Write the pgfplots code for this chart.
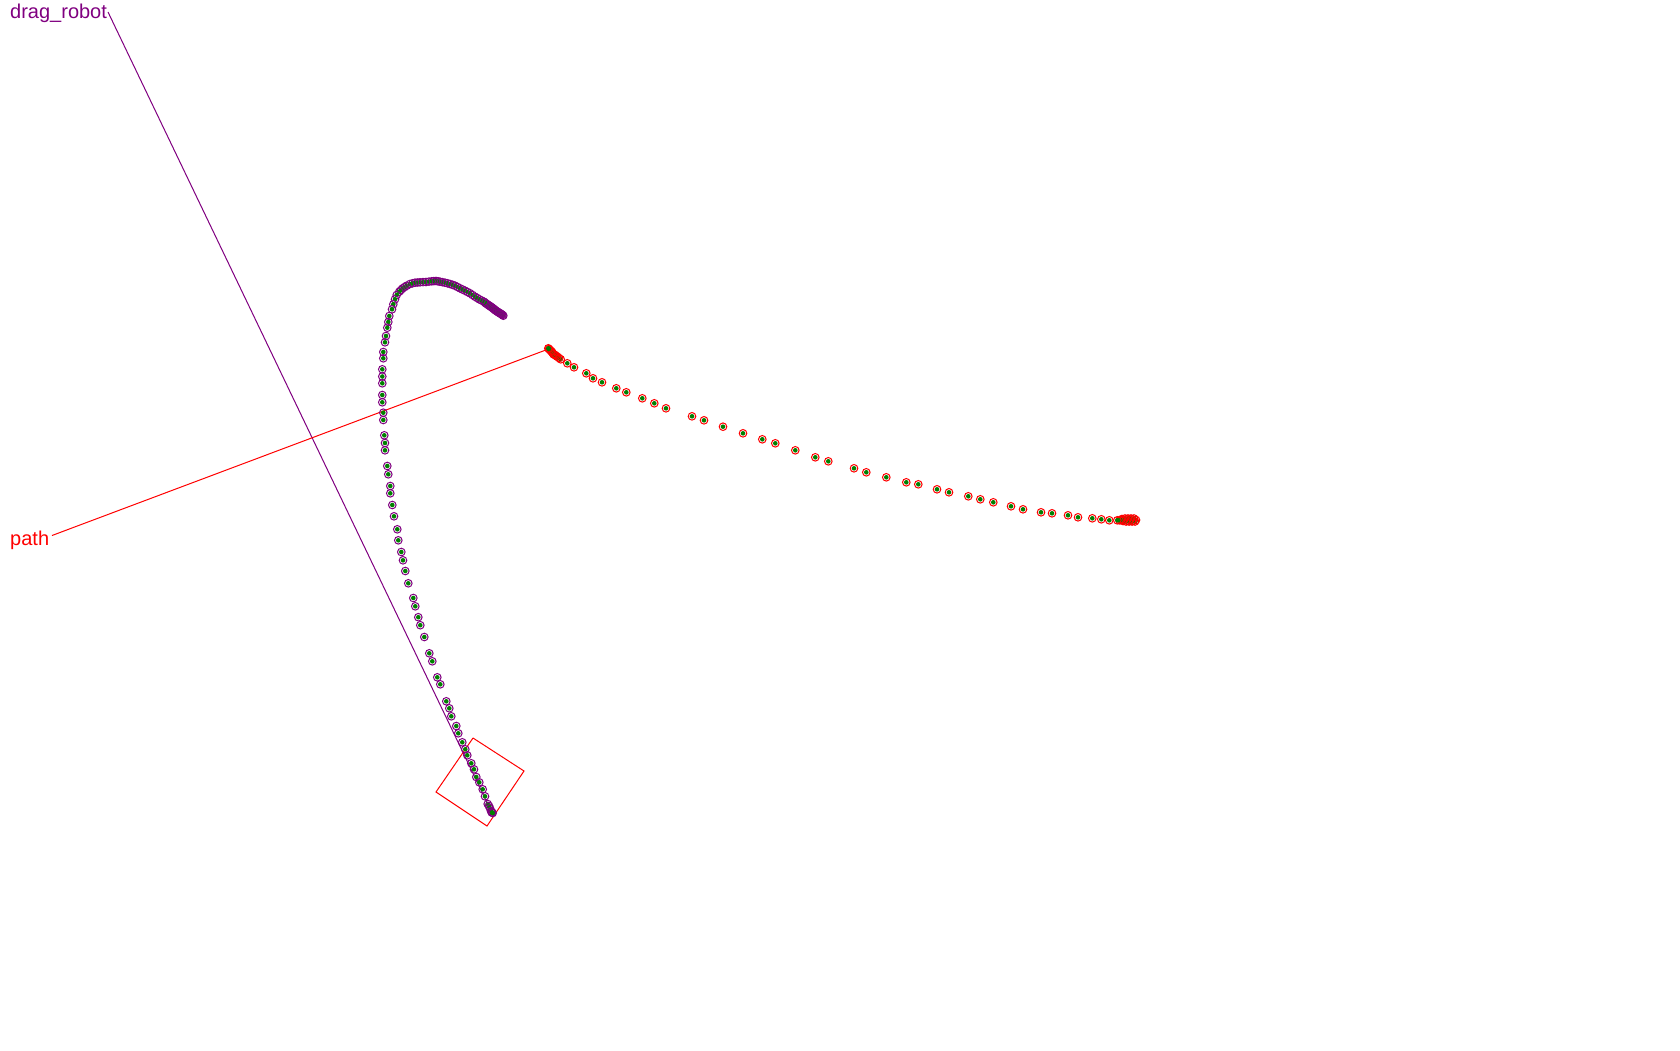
\documentclass[border=0pt]{standalone}
\usepackage{fontspec}
\setmainfont{Liberation Sans}
\usepackage{pgfplots}
\usepackage{pgfplotstable}
\pgfplotsset{compat=1.18}
\definecolor{rpurple}{HTML}{800080}
\definecolor{rgreen}{HTML}{008000}
\definecolor{rred}{HTML}{FF0000}
\pgfdeclareplotmark{ringdot}{%
  \pgfpathcircle{\pgfpointorigin}{2.3pt}%
  \pgfsetfillcolor{rgreen}\pgfusepathqfill
  \pgfpathcircle{\pgfpointorigin}{\pgfplotmarksize}%
  \pgfusepathqstroke}
% robot trajectory, drawn from the upper end to the robot
\pgfplotstableread{
x y
503.3 315.7
502.5 315
501.7 314.3
500.8 313.8
500 313.3
499.2 312.8
498.3 312.3
497.5 311.7
496.7 311.2
495.8 310.6
495 310
494.2 309.3
493.5 308.7
492.6 308
491.7 307.3
490.8 306.7
490 306.2
489.2 305.6
488.3 305
487.2 304.2
486 303.5
485 302.6
484 301.7
481.6 300.5
479.3 299.3
477.2 298
475 296.7
472.5 295
470 293.3
467.5 292
465 290.7
462.5 289.5
460 288.3
457.5 287
455 285.7
452.5 284.8
450 284
447.5 283.3
445 282.7
442.5 282.2
440 281.7
438 281.3
436 281
433.8 281.1
431.7 281.3
429 281.6
426 282
423 282.1
420 282.3
417.5 282.5
415 282.7
412.5 283.3
410 284
406.7 285.7
404.7 287
402.7 288.3
401 290
399.3 291.7
396.7 295
395 299.3
393.3 304.3
392 309.3
389.3 316
388.3 322
387.3 327.7
386 336
385 342.3
383.3 352
383.3 358.3
382.3 369.3
382.3 376.5
382.3 383.3
382.3 395
382.3 402.3
383.3 412.7
383.3 420
384.3 435.3
385 443
385 450.3
387.3 466
388.3 474.3
390.3 486
390.3 493.3
392.3 505
394 516.3
397.3 529.3
398.3 540.3
401.3 552
403 560.3
405.3 571
408.3 583.3
413.3 598
415.3 606.3
418.3 617.2
420.3 625.2
424.3 637
429.3 653.3
432.3 661.3
437.3 677.3
440.3 684.3
446.3 701.3
449.3 708.3
451.3 716.3
456.3 726
458.3 733.3
462.3 742.3
465.3 749.3
467.3 755.3
471.3 763.3
474 769.3
476.3 777
479.3 782.3
482.7 789.3
485 796.3
487.7 804
489 806
490 808.3
491 811
491.7 812.3
492 812.5
492.7 813
}\robottable
% planned path, drawn from its far end to its near end
\pgfplotstableread{
x y
1136 520
1135 521.5
1134 518.5
1133 520.5
1132 521.5
1131 518.5
1130 520
1129 521.5
1128 518.5
1127 520.5
1126 521.5
1125 518.5
1124 520
1123 521
1122 519
1121 520
1119.5 520.3
1117.3 520.3
1109.3 520.3
1101.3 519.3
1092.3 518.3
1078 517.3
1068 515.3
1052 513.3
1041 512.3
1023 509.3
1011 506.3
993.3 502.3
980.3 499.3
968.3 496.3
949 492.3
937 489.3
918.3 484.3
906.3 482.3
886.3 477.3
866.3 472.3
854 468.3
828.3 461.3
815.3 457.3
795.3 450.3
775.3 443.3
762.3 439.3
743 433.3
723 426.7
704 420.3
692 416.3
666 408.3
654.3 403.3
642.3 398.3
626.3 392.3
616.3 388.3
602 382.3
593 378.3
586.3 373.3
574 367.3
567.3 363.3
560.7 359.3
559 358
557.3 356.7
556 355.8
555 355
554 354.5
553.3 354
552.5 352.8
551.7 351.7
551 351
550 350
549 349
548.3 348.3
}\pathtable
\begin{document}
\begin{tikzpicture}
\useasboundingbox (0,0) rectangle (1680pt,1050pt);
\begin{axis}[at={(0,0)}, anchor=south west, scale only axis,
  width=1680pt, height=1050pt,
  xmin=0, xmax=1680, ymin=0, ymax=1050, y dir=reverse,
  hide axis, clip=false]
% connector lines
\addplot[rpurple, line width=1pt] coordinates {(108,12) (492,813)};
\addplot[rred, line width=1pt] coordinates {(52,535.5) (548.5,349)};
% robot footprint
\addplot[rred, line width=1pt] coordinates {(473,738) (524,771) (487,826) (436,792) (473,738)};
% trajectories
\addplot[only marks, mark=ringdot, mark size=3.8pt, mark options={draw=rpurple, line width=1pt}] table {\robottable};
\addplot[only marks, mark=ringdot, mark size=3.8pt, mark options={draw=rred, line width=1pt}] table {\pathtable};
% labels
\node[anchor=base west, inner sep=0pt, text=rpurple, font=\fontsize{20}{23}\selectfont] at (axis cs:10,18.5) {drag\_robot};
\node[anchor=base west, inner sep=0pt, text=rred, font=\fontsize{20}{23}\selectfont] at (axis cs:10,545) {path};
\end{axis}
\end{tikzpicture}
\end{document}
